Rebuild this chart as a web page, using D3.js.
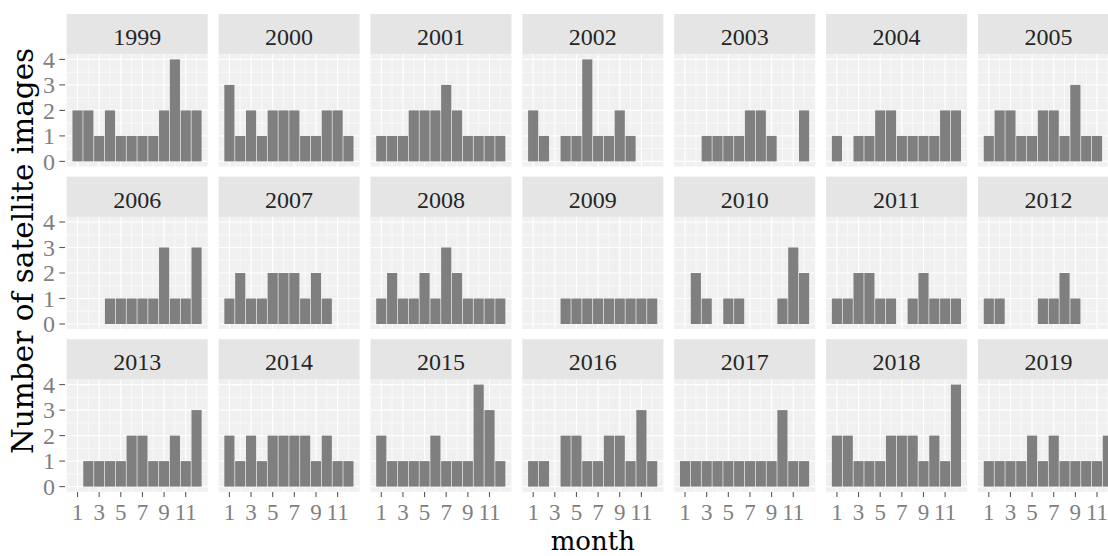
<!DOCTYPE html>
<html>
<head>
<meta charset="utf-8">
<script src="https://cdn.jsdelivr.net/npm/d3@7"></script>
<style>
  body { margin: 0; background: #ffffff; }
  svg { display: block; }
</style>
</head>
<body>
<svg id="chart" width="1108" height="556"></svg>
<script>
// Facet labels, x categories and tick values
const years = [1999, 2000, 2001, 2002, 2003, 2004, 2005,
               2006, 2007, 2008, 2009, 2010, 2011, 2012,
               2013, 2014, 2015, 2016, 2017, 2018, 2019];
const months = [1, 2, 3, 4, 5, 6, 7, 8, 9, 10, 11, 12];
const monthTicks = [1, 3, 5, 7, 9, 11];
const monthMinor = [2, 4, 6, 8, 10, 12];
const countTicks = [0, 1, 2, 3, 4];
const countMinor = [0.5, 1.5, 2.5, 3.5];

// Number of satellite images per month, one array per year
const n1999 = [2, 2, 1, 2, 1, 1, 1, 1, 2, 4, 2, 2];
const n2000 = [3, 1, 2, 1, 2, 2, 2, 1, 1, 2, 2, 1];
const n2001 = [1, 1, 1, 2, 2, 2, 3, 2, 1, 1, 1, 1];
const n2002 = [2, 1, 0, 1, 1, 4, 1, 1, 2, 1, 0, 0];
const n2003 = [0, 0, 1, 1, 1, 1, 2, 2, 1, 0, 0, 2];
const n2004 = [1, 0, 1, 1, 2, 2, 1, 1, 1, 1, 2, 2];
const n2005 = [1, 2, 2, 1, 1, 2, 2, 1, 3, 1, 1, 0];
const n2006 = [0, 0, 0, 1, 1, 1, 1, 1, 3, 1, 1, 3];
const n2007 = [1, 2, 1, 1, 2, 2, 2, 1, 2, 1, 0, 0];
const n2008 = [1, 2, 1, 1, 2, 1, 3, 2, 1, 1, 1, 1];
const n2009 = [0, 0, 0, 1, 1, 1, 1, 1, 1, 1, 1, 1];
const n2010 = [0, 2, 1, 0, 1, 1, 0, 0, 0, 1, 3, 2];
const n2011 = [1, 1, 2, 2, 1, 1, 0, 1, 2, 1, 1, 1];
const n2012 = [1, 1, 0, 0, 0, 1, 1, 2, 1, 0, 0, 0];
const n2013 = [0, 1, 1, 1, 1, 2, 2, 1, 1, 2, 1, 3];
const n2014 = [2, 1, 2, 1, 2, 2, 2, 2, 1, 2, 1, 1];
const n2015 = [2, 1, 1, 1, 1, 2, 1, 1, 1, 4, 3, 1];
const n2016 = [1, 1, 0, 2, 2, 1, 1, 2, 2, 1, 3, 1];
const n2017 = [1, 1, 1, 1, 1, 1, 1, 1, 1, 3, 1, 1];
const n2018 = [2, 2, 1, 1, 1, 2, 2, 2, 1, 2, 1, 4];
const n2019 = [1, 1, 1, 1, 2, 1, 2, 1, 1, 1, 1, 2];

const countsByYear = [n1999, n2000, n2001, n2002, n2003, n2004, n2005,
                      n2006, n2007, n2008, n2009, n2010, n2011, n2012,
                      n2013, n2014, n2015, n2016, n2017, n2018, n2019];

// ---- layout ----
const nCol = 7;
const panelLeft0 = 66.7, colPitch = 151.88, panelW = 141;
const stripTop0 = 14, rowPitch = 162.6, stripH = 40.3, panelH = 112.2;
const numFont = "'Liberation Serif', 'Times New Roman', serif";
const titleFont = "'DejaVu Serif', serif";

const svg = d3.select("#chart");

const x = d3.scaleLinear().domain([0, 13.03]).range([0, panelW]);
const y = d3.scaleLinear().domain([-0.2, 4.2]).range([panelH, 0]);
const barW = x(1) - x(0);

years.forEach((yr, i) => {
  const col = i % nCol, row = Math.floor(i / nCol);
  const px = panelLeft0 + col * colPitch;
  const stripTop = stripTop0 + row * rowPitch;
  const py = stripTop + stripH;
  const data = months.map((m, k) => ({ month: m, n: countsByYear[i][k] }));

  // strip
  const strip = svg.append("g").attr("transform", `translate(${px},${stripTop})`);
  strip.append("rect").attr("width", panelW).attr("height", stripH).attr("fill", "#e5e5e5");
  strip.append("text")
    .attr("x", panelW / 2).attr("y", 31.3)
    .attr("text-anchor", "middle")
    .attr("font-family", numFont).attr("font-size", 24)
    .attr("fill", "#262626")
    .text(yr);

  // panel
  const g = svg.append("g").attr("transform", `translate(${px},${py})`);
  g.append("rect").attr("width", panelW).attr("height", panelH).attr("fill", "#f0f0f0");

  // grid: minor then major
  g.selectAll(".vmin").data(monthMinor).join("line")
    .attr("x1", d => x(d)).attr("x2", d => x(d)).attr("y1", 0).attr("y2", panelH)
    .attr("stroke", "#ffffff").attr("stroke-width", 0.6);
  g.selectAll(".hmin").data(countMinor).join("line")
    .attr("x1", 0).attr("x2", panelW).attr("y1", d => y(d)).attr("y2", d => y(d))
    .attr("stroke", "#ffffff").attr("stroke-width", 0.6);
  g.selectAll(".vmaj").data(monthTicks).join("line")
    .attr("x1", d => x(d)).attr("x2", d => x(d)).attr("y1", 0).attr("y2", panelH)
    .attr("stroke", "#ffffff").attr("stroke-width", 1.2);
  g.selectAll(".hmaj").data(countTicks).join("line")
    .attr("x1", 0).attr("x2", panelW).attr("y1", d => y(d)).attr("y2", d => y(d))
    .attr("stroke", "#ffffff").attr("stroke-width", 1.2);

  // bars
  g.selectAll(".bar").data(data.filter(d => d.n > 0)).join("rect")
    .attr("x", d => x(d.month - 0.5) + 0.35)
    .attr("width", barW - 0.7)
    .attr("y", d => y(d.n))
    .attr("height", d => y(0) - y(d.n))
    .attr("fill", "#7f7f7f");

  // y axis on first column
  if (col === 0) {
    const ya = svg.append("g").attr("transform", `translate(${px},${py})`);
    ya.selectAll("line").data(countTicks).join("line")
      .attr("x1", -7.4).attr("x2", -1.7).attr("y1", d => y(d)).attr("y2", d => y(d))
      .attr("stroke", "#5a5a5a").attr("stroke-width", 1.1);
    ya.selectAll("text").data(countTicks).join("text")
      .attr("x", -11.6).attr("y", d => y(d)).attr("dy", "0.34em")
      .attr("text-anchor", "end")
      .attr("font-family", numFont).attr("font-size", 24)
      .attr("fill", "#808080")
      .text(d => d);
  }

  // x axis on bottom row
  if (row === 2) {
    const xa = svg.append("g").attr("transform", `translate(${px},${py + panelH})`);
    xa.selectAll("line").data(monthTicks).join("line")
      .attr("x1", d => x(d)).attr("x2", d => x(d)).attr("y1", 0.3).attr("y2", 5.3)
      .attr("stroke", "#5a5a5a").attr("stroke-width", 1.1);
    xa.selectAll("text").data(monthTicks).join("text")
      .attr("x", d => x(d)).attr("y", 28.6)
      .attr("text-anchor", "middle")
      .attr("font-family", numFont).attr("font-size", 23)
      .attr("fill", "#808080")
      .text(d => d);
  }
});

// axis titles
const panelsRight = panelLeft0 + (nCol - 1) * colPitch + panelW;
svg.append("text")
  .attr("x", (panelLeft0 + panelsRight) / 2).attr("y", 549.6)
  .attr("text-anchor", "middle")
  .attr("font-family", titleFont).attr("font-size", 26)
  .attr("fill", "#000000")
  .text("month");

const plotTop = stripTop0, plotBottom = stripTop0 + 2 * rowPitch + stripH + panelH;
svg.append("text")
  .attr("transform", `translate(32.5,${(plotTop + plotBottom) / 2 - 2}) rotate(-90)`)
  .attr("text-anchor", "middle")
  .attr("font-family", titleFont).attr("font-size", 29.5)
  .attr("fill", "#000000")
  .text("Number of satellite images");
</script>
</body>
</html>
